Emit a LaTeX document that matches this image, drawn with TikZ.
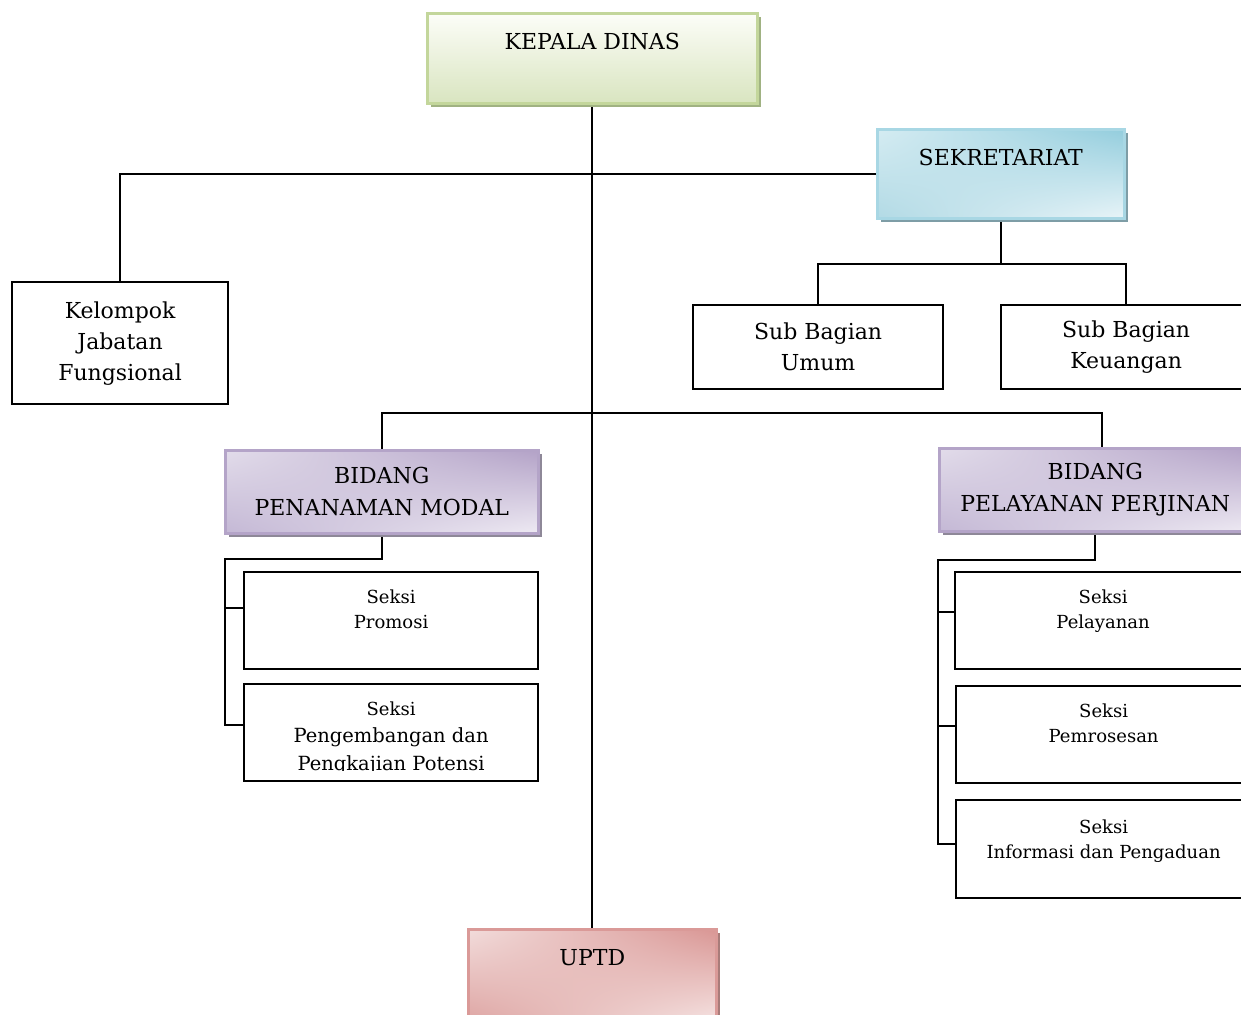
\documentclass[tikz,border=0pt]{standalone}
\usepackage{fontspec}
\setmainfont{DejaVu Serif}
\usetikzlibrary{shadows,shadings}
\pgfdeclarelayer{bg}
\pgfsetlayers{bg,main}

\definecolor{kdline}{HTML}{C3D69B}
\definecolor{kdtop}{HTML}{FCFDF8}
\definecolor{kdbot}{HTML}{D9E5C0}
\definecolor{kdshd}{HTML}{A0B282}
\definecolor{sekline}{HTML}{A8D7E4}
\definecolor{sekul}{HTML}{D5ECF2}
\definecolor{sekur}{HTML}{93CDDD}
\definecolor{sekll}{HTML}{B2DAE5}
\definecolor{seklr}{HTML}{E8F4F8}
\definecolor{sekshd}{HTML}{7E9DA6}
\definecolor{bidline}{HTML}{B4A4C8}
\definecolor{bidul}{HTML}{E2DCEA}
\definecolor{bidur}{HTML}{B3A2C7}
\definecolor{bidll}{HTML}{C4B8D5}
\definecolor{bidlr}{HTML}{EEEAF3}
\definecolor{bidshd}{HTML}{8E8898}
\definecolor{uptline}{HTML}{DA9A98}
\definecolor{uptul}{HTML}{F2DCDB}
\definecolor{uptur}{HTML}{D99694}
\definecolor{uptll}{HTML}{DDA3A1}
\definecolor{uptlr}{HTML}{F6E6E5}
\definecolor{uptshd}{HTML}{A87C7A}

\begin{document}
\begin{tikzpicture}[x=1pt,y=-1pt,
  garis/.style={line width=2pt},
  box/.style={draw,line width=2.2pt,inner sep=0pt,anchor=north west,align=center,
    font=\fontsize{22}{31}\selectfont},
  seksi/.style={box,font=\fontsize{18}{25}\selectfont,minimum width=295pt,
    text height=56pt,text depth=41pt},
  shd/.style={drop shadow={shadow xshift=4pt,shadow yshift=-4pt,opacity=1,fill=#1}},
  hijau/.style={box,draw=kdline,line width=2.6pt,top color=kdtop,bottom color=kdbot,shd=kdshd},
  warna/.style={box,draw=#1line,line width=2.6pt,upper left=#1ul,upper right=#1ur,
    lower left=#1ll,lower right=#1lr,shd=#1shd},
  biru/.style={warna=sek},
  ungu/.style={warna=bid},
  merah/.style={warna=upt}]
\useasboundingbox (0,0) rectangle (1241,1014);
\clip (0,0) rectangle (1241,1014);
% ================ pimpinan & sekretariat ================
\node[hijau,minimum width=330pt,text height=36pt,text depth=54pt] (kd) at (426,12) {KEPALA DINAS};
\node[biru,minimum width=247pt,text height=36pt,text depth=53pt] (sek) at (876,128) {SEKRETARIAT};
\node[box,minimum width=216pt,minimum height=122pt] (kjf) at (11,281) {Kelompok\\Jabatan\\Fungsional};
\node[box,minimum width=250pt,minimum height=84pt] (sbu) at (692,304) {Sub Bagian\\Umum};
\node[box,minimum width=250pt,minimum height=84pt] (sbk) at (1000,304) {Sub Bagian\\Keuangan};
% ================ bidang ================
\node[ungu,minimum width=313pt,minimum height=83pt,font=\fontsize{22}{32}\selectfont] (bpm) at (224,449) {BIDANG\\PENANAMAN MODAL};
\node[ungu,minimum width=312pt,minimum height=83pt,font=\fontsize{22}{32}\selectfont] (bpp) at (938,447) {BIDANG\\PELAYANAN PERJINAN};
% seksi kiri
\node[seksi,minimum width=294pt] (pro) at (243,571) {Seksi\\Promosi};
\node[seksi,minimum width=294pt,text height=86pt,text depth=11pt] (pk) at (243,683) {Seksi\\[2pt]{\fontsize{19.5}{28}\selectfont Pengembangan dan}\\[3pt]{\fontsize{19.5}{28}\selectfont Pengkajian Potensi}};
\fill[white] (244.5,770.5) rectangle (535.5,778.5);
% seksi kanan
\node[seksi,minimum width=296pt] (pel) at (954,571) {Seksi\\Pelayanan};
\node[seksi] (pem) at (955,685) {Seksi\\Pemrosesan};
\node[seksi,text height=58pt,text depth=40pt] (inf) at (955,799) {Seksi\\Informasi dan Pengaduan};
% ================ UPTD ================
\node[merah,minimum width=248pt,text height=36pt,text depth=60pt] (uptd) at (467,928) {UPTD};
% ================ garis ================
\begin{pgfonlayer}{bg}
\draw[garis] (kd.south) -- (uptd.north);
\draw[garis] (kjf.north) |- (sek.west);
\draw[garis] (sek.south) -- ++(0,45.5);
\draw[garis] (sbu.north) -- ++(0,-40) -| (sbk.north);
\draw[garis] (bpm.north) -- ++(0,-36) -| ([xshift=7pt]bpp.north);
\draw[garis] (bpm.south) |- ++(-157,24) |- ([yshift=8pt]pk.west);
\draw[garis] ([yshift=13pt]pro.west) -- ++(-19,0);
\draw[garis] (bpp.south) |- ++(-157,27) |- ([yshift=5pt]inf.west);
\draw[garis] ([yshift=8.5pt]pel.west) -- ++(-17,0);
\draw[garis] ([yshift=8.5pt]pem.west) -- ++(-18,0);
\end{pgfonlayer}
\end{tikzpicture}
\end{document}
